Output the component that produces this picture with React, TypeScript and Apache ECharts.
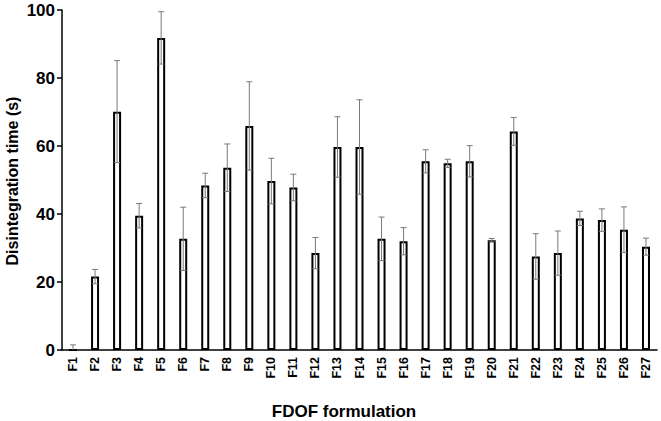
import React, { useEffect, useRef } from "react";
import * as echarts from "echarts";

const categories = ["F1","F2","F3","F4","F5","F6","F7","F8","F9","F10","F11","F12","F13","F14","F15","F16","F17","F18","F19","F20","F21","F22","F23","F24","F25","F26","F27"];
const means = [0, 21.6, 70.1, 39.5, 91.8, 32.7, 48.4, 53.6, 65.9, 49.7, 47.8, 28.5, 59.7, 59.7, 32.7, 32.0, 55.5, 54.9, 55.5, 32.3, 64.3, 27.5, 28.5, 38.7, 38.2, 35.4, 30.4];
const errors = [1.5, 2.1, 15.0, 3.6, 7.7, 9.3, 3.6, 7.0, 13.0, 6.7, 3.9, 4.6, 8.9, 13.9, 6.4, 4.0, 3.4, 1.2, 4.6, 0.5, 4.1, 6.7, 6.5, 2.1, 3.3, 6.7, 2.5];
const yTicks = { min: 0, max: 100, interval: 20 };

const FONT = "'Liberation Sans', Arial, sans-serif";

export default function App() {
  const ref = useRef<HTMLDivElement>(null);
  useEffect(() => {
    if (!ref.current) return;
    const chart = echarts.init(ref.current, null, { renderer: "svg" });
    const errData = means.map((m, i) => [i, m, errors[i]]);
    chart.setOption({
      animation: false,
      backgroundColor: "#fff",
      grid: { left: 62, right: 4, top: 10, bottom: 71, containLabel: false },
      xAxis: {
        type: "category",
        data: categories,
        axisLine: { show: true, lineStyle: { color: "#000", width: 1.5 } },
        axisTick: { show: false },
        axisLabel: { rotate: 90, fontFamily: FONT, fontWeight: "bold", fontSize: 12.5, color: "#000", margin: 7, interval: 0 },
        splitLine: { show: false },
      },
      yAxis: {
        type: "value",
        min: yTicks.min,
        max: yTicks.max,
        interval: yTicks.interval,
        axisLine: { show: true, lineStyle: { color: "#000", width: 1.5 } },
        axisTick: { show: true, length: 5, lineStyle: { color: "#000", width: 1.5 } },
        axisLabel: { fontFamily: FONT, fontWeight: "bold", fontSize: 17, color: "#000", margin: 7 },
        splitLine: { show: false },
      },
      graphic: [
        {
          type: "text",
          x: 344,
          y: 411,
          style: { text: "FDOF formulation", font: `bold 17px ${FONT}`, fill: "#000", align: "center", verticalAlign: "middle" },
        },
        {
          type: "text",
          x: 4,
          y: 181,
          rotation: Math.PI / 2,
          style: { text: "Disintegration time (s)", font: `bold 16px ${FONT}`, fill: "#000", align: "center", verticalAlign: "top" },
        },
      ],
      series: [
        {
          type: "bar",
          data: means,
          barWidth: 8,
          itemStyle: { color: "#fff", borderColor: "#000", borderWidth: 2 },
        },
        {
          type: "custom",
          data: errData,
          encode: { x: 0, y: 1 },
          z: 10,
          renderItem: (params: any, api: any) => {
            const idx = api.value(0);
            const m = api.value(1);
            const e = api.value(2);
            const top = api.coord([idx, m + e]);
            const bot = api.coord([idx, Math.max(0, m - e)]);
            const half = 3;
            const st = { stroke: "#7a7a7a", lineWidth: 1 };
            return {
              type: "group",
              children: [
                { type: "line", shape: { x1: top[0], y1: top[1], x2: bot[0], y2: bot[1] }, style: st },
                { type: "line", shape: { x1: top[0] - half, y1: top[1], x2: top[0] + half, y2: top[1] }, style: st },
                ...(m - e > 0
                  ? [{ type: "line", shape: { x1: bot[0] - half, y1: bot[1], x2: bot[0] + half, y2: bot[1] }, style: st }]
                  : []),
              ],
            };
          },
        },
      ],
    });
    return () => chart.dispose();
  }, []);
  return <div ref={ref} style={{ position: "fixed", left: 0, top: 0, width: 661, height: 421, background: "#fff" }} />;
}
